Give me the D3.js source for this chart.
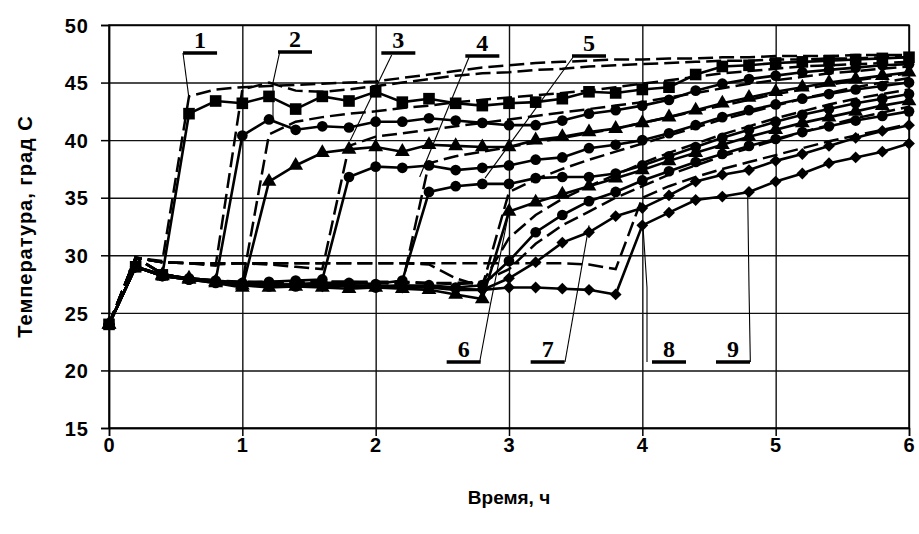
<!DOCTYPE html>
<html>
<head>
<meta charset="utf-8">
<script src="https://cdn.jsdelivr.net/npm/d3@7"></script>
<style>
  body { margin: 0; background: #fff; }
  svg text { font-family: "Liberation Sans", Arial, sans-serif; }
</style>
</head>
<body>
<div id="chart"></div>
<script>
// time grid, h
const hours = [0, 0.2, 0.4, 0.6, 0.8, 1.0, 1.2, 1.4, 1.6, 1.8, 2.0, 2.2, 2.4, 2.6, 2.8, 3.0,
               3.2, 3.4, 3.6, 3.8, 4.0, 4.2, 4.4, 4.6, 4.8, 5.0, 5.2, 5.4, 5.6, 5.8, 6.0];

// measured curves (solid, with markers)
const meas1 = [24.0, 29.0, 28.3, 42.3, 43.4, 43.2, 43.8, 42.7, 43.8, 43.4, 44.2, 43.3, 43.6, 43.2, 43.0, 43.2, 43.3, 43.6, 44.2, 44.1, 44.4, 44.6, 45.7, 46.4, 46.5, 46.7, 46.8, 46.9, 47.0, 47.1, 47.2];
const meas2 = [24.0, 29.0, 28.2, 28.0, 27.8, 40.4, 41.8, 40.9, 41.2, 41.1, 41.6, 41.6, 41.9, 41.7, 41.5, 41.3, 41.3, 41.7, 42.3, 42.6, 43.0, 43.5, 44.3, 44.9, 45.3, 45.6, 45.9, 46.1, 46.3, 46.5, 46.6];
const meas3 = [24.0, 29.0, 28.2, 27.9, 27.6, 27.2, 36.4, 37.8, 38.9, 39.2, 39.4, 39.0, 39.6, 39.5, 39.4, 39.4, 40.0, 40.3, 40.7, 41.0, 41.5, 42.0, 42.6, 43.2, 43.7, 44.2, 44.6, 45.0, 45.3, 45.6, 45.9];
const meas4 = [24.0, 29.0, 28.2, 27.9, 27.7, 27.6, 27.7, 27.8, 27.9, 36.8, 37.7, 37.6, 37.8, 37.4, 37.6, 37.8, 38.3, 38.5, 39.3, 39.6, 40.0, 40.6, 41.3, 42.0, 42.6, 43.1, 43.6, 44.0, 44.4, 44.7, 45.0];
const meas5 = [24.0, 29.0, 28.2, 27.9, 27.7, 27.5, 27.4, 27.5, 27.6, 27.6, 27.5, 27.8, 35.5, 36.0, 36.2, 36.2, 36.7, 36.8, 36.8, 37.1, 37.8, 38.6, 39.4, 40.2, 40.9, 41.6, 42.2, 42.7, 43.2, 43.6, 44.0];
const meas6 = [24.0, 29.0, 28.3, 28.0, 27.7, 27.4, 27.2, 27.3, 27.2, 27.1, 27.2, 27.1, 27.0, 26.6, 26.2, 33.8, 34.6, 35.3, 36.0, 36.7, 37.4, 38.2, 38.9, 39.6, 40.3, 40.9, 41.5, 42.0, 42.5, 43.0, 43.4];
const meas7 = [24.0, 29.0, 28.2, 27.9, 27.6, 27.4, 27.3, 27.3, 27.4, 27.3, 27.2, 27.3, 27.4, 27.2, 27.4, 29.5, 32.0, 33.5, 34.7, 35.5, 36.5, 37.3, 38.1, 38.8, 39.5, 40.1, 40.7, 41.2, 41.7, 42.1, 42.5];
const meas8 = [24.0, 29.0, 28.3, 28.0, 27.8, 27.6, 27.5, 27.4, 27.5, 27.4, 27.3, 27.4, 27.3, 27.1, 27.0, 28.0, 29.4, 31.1, 32.0, 33.4, 34.1, 35.2, 36.4, 37.0, 37.4, 38.2, 38.8, 39.5, 40.2, 40.8, 41.3];
const meas9 = [24.0, 29.0, 28.3, 28.0, 27.8, 27.5, 27.5, 27.4, 27.3, 27.4, 27.3, 27.2, 27.2, 27.0, 27.0, 27.2, 27.2, 27.1, 27.0, 26.6, 32.6, 33.7, 34.8, 35.1, 35.5, 36.4, 37.1, 38.0, 38.5, 39.0, 39.7];

// calculated curves (dashed)
const calc1 = [24.0, 29.8, 29.5, 43.8, 44.4, 44.6, 44.7, 44.8, 44.9, 45.0, 45.1, 45.4, 45.7, 46.0, 46.3, 46.5, 46.7, 46.8, 46.9, 47.0, 47.0, 47.1, 47.1, 47.2, 47.2, 47.3, 47.3, 47.3, 47.4, 47.4, 47.4];
const calc2 = [24.0, 29.8, 29.4, 29.3, 29.1, 44.4, 45.0, 44.3, 44.2, 44.4, 44.7, 45.0, 45.3, 45.6, 45.8, 45.9, 46.1, 46.2, 46.4, 46.5, 46.6, 46.7, 46.8, 46.9, 46.9, 47.0, 47.0, 47.1, 47.1, 47.2, 47.2];
const calc3 = [24.0, 29.8, 28.4, 27.9, 27.7, 27.6, 40.5, 41.6, 42.0, 42.3, 42.5, 42.8, 43.0, 43.3, 43.5, 43.7, 43.9, 44.1, 44.3, 44.6, 44.9, 45.2, 45.5, 45.8, 46.0, 46.2, 46.4, 46.5, 46.6, 46.7, 46.8];
const calc4 = [24.0, 29.8, 29.4, 29.3, 29.2, 29.3, 29.2, 29.0, 28.8, 39.5, 40.3, 40.6, 40.9, 41.2, 41.5, 41.8, 42.1, 42.4, 42.7, 43.0, 43.3, 43.7, 44.1, 44.5, 44.9, 45.2, 45.5, 45.8, 46.0, 46.2, 46.4];
const calc5 = [24.0, 29.8, 28.4, 27.9, 27.7, 27.6, 27.6, 27.6, 27.7, 27.7, 27.6, 27.5, 38.0, 38.6, 39.0, 39.4, 39.8, 40.2, 40.6, 41.0, 41.5, 42.0, 42.5, 43.0, 43.5, 44.0, 44.4, 44.8, 45.2, 45.5, 45.8];
const calc6 = [24.0, 29.8, 29.4, 29.3, 29.3, 29.3, 29.3, 29.3, 29.3, 29.3, 29.3, 29.3, 29.2, 28.0, 27.3, 35.5, 36.6, 37.5, 38.3, 39.0, 39.7, 40.4, 41.1, 41.8, 42.4, 43.0, 43.6, 44.1, 44.6, 45.0, 45.4];
const calc7 = [24.0, 29.8, 28.4, 27.9, 27.7, 27.7, 27.6, 27.6, 27.6, 27.6, 27.6, 27.6, 27.6, 27.5, 27.6, 31.5, 33.5, 34.9, 36.0, 37.0, 38.0, 38.9, 39.7, 40.5, 41.2, 41.9, 42.5, 43.1, 43.6, 44.0, 44.4];
const calc8 = [24.0, 29.8, 28.4, 27.9, 27.8, 27.7, 27.7, 27.7, 27.7, 27.7, 27.7, 27.7, 27.6, 27.6, 27.7, 28.8, 31.0, 32.6, 33.8, 35.0, 36.0, 37.0, 37.8, 38.6, 39.3, 40.0, 40.7, 41.3, 41.9, 42.4, 42.9];
const calc9 = [24.0, 29.8, 29.4, 29.3, 29.3, 29.3, 29.3, 29.3, 29.3, 29.3, 29.3, 29.3, 29.3, 29.3, 29.3, 29.3, 29.3, 29.3, 29.2, 28.8, 35.0, 36.0, 36.8, 37.5, 38.1, 38.7, 39.3, 39.9, 40.4, 40.9, 41.4];

const xTicks = [0, 1, 2, 3, 4, 5, 6];
const yTicks = [15, 20, 25, 30, 35, 40, 45, 50];

// curve numbers: underline centre (time, temp), leader path in data units
const curveLabels = [
  { n: '1', t: 0.683, v: 47.57, leader: [[0.555, 47.57], [0.6, 43.6]] },
  { n: '2', t: 1.395, v: 47.65, leader: [[1.28, 47.65], [1.23, 45.0], [1.23, 42.0]] },
  { n: '3', t: 2.17, v: 47.57, leader: [[2.12, 47.4], [1.81, 40.0]] },
  { n: '4', t: 2.80, v: 47.3, leader: [[2.70, 47.2], [2.33, 36.8]] },
  { n: '5', t: 3.60, v: 47.3, leader: [[3.48, 47.2], [2.82, 36.7]] },
  { n: '6', t: 2.66, v: 20.73, leader: [[2.78, 20.73], [2.86, 25.7], [3.0, 33.8]] },
  { n: '7', t: 3.29, v: 20.73, leader: [[3.42, 20.73], [3.6, 32.6]] },
  { n: '8', t: 4.20, v: 20.73, leader: [[4.035, 20.73], [4.035, 27.2], [4.005, 32.5]] },
  { n: '9', t: 4.68, v: 20.73, leader: [[4.81, 20.73], [4.80, 27.2], [4.79, 35.4]] }
];

const width = 919, height = 534;
const margin = { top: 25, right: 10, bottom: 106, left: 109 };

const measured = [
  { values: meas1, marker: 'square' },
  { values: meas2, marker: 'circle' },
  { values: meas3, marker: 'triangle' },
  { values: meas4, marker: 'circle' },
  { values: meas5, marker: 'circle' },
  { values: meas6, marker: 'triangle' },
  { values: meas7, marker: 'circle' },
  { values: meas8, marker: 'diamond' },
  { values: meas9, marker: 'diamond' }
];
const calculated = [calc1, calc2, calc3, calc4, calc5, calc6, calc7, calc8, calc9];

const x = d3.scaleLinear().domain([0, 6]).range([margin.left, width - margin.right]);
const y = d3.scaleLinear().domain([15, 50]).range([height - margin.bottom, margin.top]);

const svg = d3.select('#chart').append('svg')
  .attr('width', width)
  .attr('height', height);

// grid
svg.append('g')
  .attr('transform', `translate(0,${y(15)})`)
  .call(d3.axisBottom(x).tickValues(xTicks).tickSize(-(y(15) - y(50))).tickFormat(''))
  .call(g => g.select('.domain').remove())
  .selectAll('line').attr('stroke', '#111').attr('stroke-width', 1.4);
svg.append('g')
  .attr('transform', `translate(${x(0)},0)`)
  .call(d3.axisLeft(y).tickValues(yTicks).tickSize(-(x(6) - x(0))).tickFormat(''))
  .call(g => g.select('.domain').remove())
  .selectAll('line').attr('stroke', '#111').attr('stroke-width', 1.4);

svg.append('rect')
  .attr('x', x(0)).attr('y', y(50))
  .attr('width', x(6) - x(0)).attr('height', y(15) - y(50))
  .attr('fill', 'none').attr('stroke', '#000').attr('stroke-width', 1.5);

// axes
const xAxis = svg.append('g')
  .attr('transform', `translate(0,${y(15)})`)
  .call(d3.axisBottom(x).tickValues(xTicks).tickSize(8).tickPadding(2).tickFormat(d3.format('d')));
const yAxis = svg.append('g')
  .attr('transform', `translate(${x(0)},0)`)
  .call(d3.axisLeft(y).tickValues(yTicks).tickSize(8).tickPadding(12));
[xAxis, yAxis].forEach(g => {
  g.select('.domain').attr('stroke', '#000').attr('stroke-width', 1.5);
  g.selectAll('line').attr('stroke', '#000').attr('stroke-width', 1.5);
  g.selectAll('text')
    .attr('fill', '#000')
    .style('font-size', '20px')
    .style('font-weight', 'bold')
    .style('letter-spacing', '1px')
    .style('font-family', '"Liberation Sans", Arial, sans-serif');
});
yAxis.selectAll('text').attr('dy', '0.36em');

svg.append('text')
  .attr('x', (x(0) + x(6)) / 2)
  .attr('y', 504)
  .attr('text-anchor', 'middle')
  .style('font-size', '19px')
  .style('font-weight', 'bold')
  .text('Время, ч');

svg.append('text')
  .attr('transform', `translate(32,${(y(15) + y(50)) / 2}) rotate(-90)`)
  .attr('text-anchor', 'middle')
  .style('font-size', '20px')
  .style('font-weight', 'bold')
  .style('letter-spacing', '1px')
  .text('Температура, град С');

// curves
const line = d3.line()
  .x((d, i) => x(hours[i]))
  .y(d => y(d));

svg.append('g')
  .selectAll('path')
  .data(calculated)
  .join('path')
  .attr('d', line)
  .attr('fill', 'none')
  .attr('stroke', '#000')
  .attr('stroke-width', 2.5)
  .attr('stroke-dasharray', '15,6');

svg.append('g')
  .selectAll('path')
  .data(measured)
  .join('path')
  .attr('d', d => line(d.values))
  .attr('fill', 'none')
  .attr('stroke', '#000')
  .attr('stroke-width', 2.6);

const symbols = {
  square: d3.symbol().type(d3.symbolSquare).size(135),
  circle: d3.symbol().type(d3.symbolCircle).size(90),
  triangle: d3.symbol().type(d3.symbolTriangle).size(95),
  diamond: d3.symbol().type(d3.symbolSquare).size(70)
};

measured.forEach(s => {
  svg.append('g')
    .selectAll('path')
    .data(s.values)
    .join('path')
    .attr('transform', (d, i) => `translate(${x(hours[i])},${y(d)})` + (s.marker === 'diamond' ? ' rotate(45)' : ''))
    .attr('d', symbols[s.marker]())
    .attr('fill', '#000');
});

// numbered labels with leaders
const lbl = svg.append('g');
curveLabels.forEach(c => {
  const cx = x(c.t), cy = y(c.v);
  lbl.append('line')
    .attr('x1', cx - 17).attr('x2', cx + 17)
    .attr('y1', cy).attr('y2', cy)
    .attr('stroke', '#000').attr('stroke-width', 3.5);
  lbl.append('text')
    .attr('x', cx).attr('y', cy - 5)
    .attr('text-anchor', 'middle')
    .style('font-family', '"Liberation Serif", "Times New Roman", serif')
    .style('font-size', '24px')
    .style('font-weight', 'bold')
    .text(c.n);
  lbl.append('path')
    .attr('d', d3.line().x(p => x(p[0])).y(p => y(p[1]))(c.leader))
    .attr('fill', 'none')
    .attr('stroke', '#000')
    .attr('stroke-width', 1.1);
});
</script>
</body>
</html>
